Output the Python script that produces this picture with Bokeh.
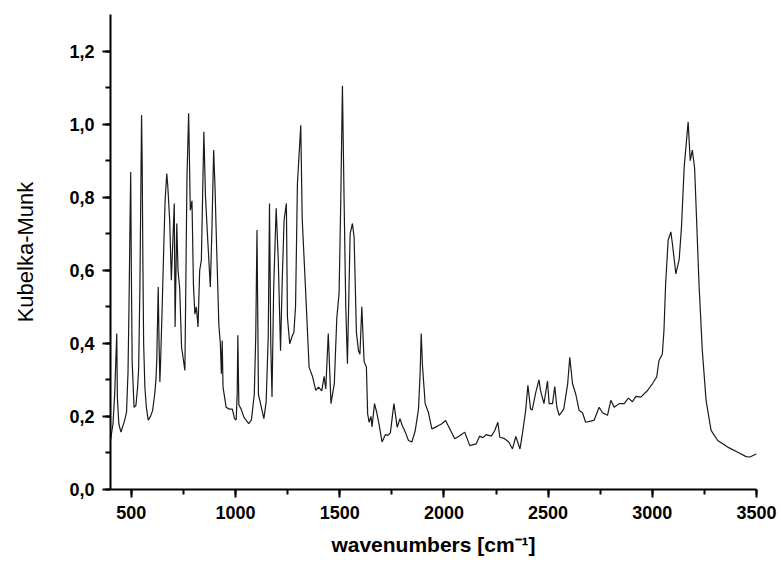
from bokeh.plotting import figure
from bokeh.models import Range1d, SingleIntervalTicker, CustomJSTickFormatter, ColumnDataSource
from bokeh.embed import file_html
from bokeh.resources import INLINE

wavenumber = [400, 412, 420, 430, 433, 440, 450, 460, 468, 477, 484, 489, 494, 497, 500, 504, 513, 522, 530, 535,
              541, 545, 549, 552, 555, 559, 565, 572, 581, 592, 602, 612, 618, 622, 629, 633, 637, 641, 648, 655,
              662, 670, 675, 684, 692, 706, 710, 718, 724, 732, 741, 757, 767, 775, 783, 791, 798, 805, 812, 820,
              828, 836, 848, 856, 865, 879, 887, 895, 902, 906, 920, 927, 932, 936, 940, 955, 970, 985, 995, 1003,
              1008, 1011, 1016, 1027, 1040, 1063, 1076, 1090, 1097, 1103, 1110, 1124, 1136, 1147, 1157, 1163, 1169, 1175, 1183, 1195,
              1205, 1216, 1224, 1233, 1244, 1249, 1260, 1272, 1280, 1288, 1297, 1313, 1320, 1335, 1353, 1369, 1385, 1398, 1414, 1425,
              1433, 1445, 1458, 1474, 1486, 1497, 1505, 1513, 1521, 1529, 1537, 1550, 1561, 1569, 1580, 1590, 1597, 1606, 1617, 1628,
              1634, 1641, 1650, 1655, 1667, 1678, 1690, 1703, 1719, 1732, 1743, 1760, 1776, 1789, 1800, 1816, 1830, 1846, 1862, 1878,
              1886, 1891, 1897, 1910, 1926, 1942, 1958, 1974, 1990, 2008, 2020, 2052, 2076, 2100, 2124, 2155, 2171, 2187, 2203, 2227,
              2243, 2259, 2268, 2288, 2311, 2329, 2345, 2365, 2376, 2392, 2403, 2416, 2424, 2440, 2456, 2464, 2480, 2497, 2505, 2521,
              2532, 2542, 2553, 2575, 2594, 2604, 2617, 2633, 2649, 2665, 2680, 2705, 2721, 2745, 2761, 2785, 2801, 2817, 2841, 2865,
              2885, 2905, 2921, 2945, 2977, 3001, 3021, 3032, 3048, 3056, 3064, 3076, 3089, 3097, 3113, 3129, 3140, 3153, 3172, 3182,
              3192, 3203, 3212, 3224, 3240, 3258, 3282, 3314, 3362, 3410, 3450, 3469, 3500]

kubelka_munk = [0.135, 0.18, 0.26, 0.427, 0.25, 0.18, 0.157, 0.175, 0.19, 0.212, 0.32, 0.51, 0.75, 0.869, 0.6, 0.35, 0.225, 0.23, 0.28, 0.33,
                0.55, 0.78, 1.025, 0.9, 0.65, 0.4, 0.28, 0.225, 0.19, 0.2, 0.216, 0.26, 0.3, 0.353, 0.554, 0.4, 0.294, 0.36, 0.5, 0.65,
                0.79, 0.865, 0.83, 0.737, 0.573, 0.783, 0.445, 0.728, 0.6, 0.55, 0.39, 0.326, 0.856, 1.03, 0.764, 0.79, 0.56, 0.48, 0.5, 0.445,
                0.6, 0.627, 0.979, 0.8, 0.70, 0.554, 0.72, 0.929, 0.82, 0.73, 0.45, 0.4, 0.317, 0.408, 0.28, 0.225, 0.22, 0.22, 0.194, 0.19,
                0.26, 0.422, 0.232, 0.22, 0.198, 0.18, 0.19, 0.26, 0.42, 0.71, 0.26, 0.225, 0.194, 0.24, 0.42, 0.783, 0.4, 0.253, 0.55, 0.77,
                0.63, 0.38, 0.57, 0.737, 0.783, 0.472, 0.399, 0.42, 0.43, 0.5, 0.837, 0.997, 0.74, 0.56, 0.335, 0.31, 0.271, 0.28, 0.27, 0.31,
                0.275, 0.427, 0.235, 0.29, 0.47, 0.537, 0.79, 1.105, 0.79, 0.5, 0.344, 0.7, 0.728, 0.69, 0.43, 0.38, 0.37, 0.5, 0.35, 0.335,
                0.207, 0.184, 0.2, 0.171, 0.235, 0.21, 0.175, 0.13, 0.15, 0.148, 0.155, 0.235, 0.17, 0.194, 0.175, 0.155, 0.134, 0.13, 0.16, 0.22,
                0.32, 0.427, 0.34, 0.235, 0.21, 0.166, 0.17, 0.175, 0.18, 0.189, 0.175, 0.139, 0.147, 0.157, 0.12, 0.125, 0.146, 0.142, 0.15, 0.146,
                0.16, 0.184, 0.143, 0.14, 0.13, 0.111, 0.145, 0.111, 0.15, 0.215, 0.285, 0.22, 0.218, 0.264, 0.3, 0.27, 0.235, 0.297, 0.235, 0.235,
                0.282, 0.225, 0.203, 0.22, 0.29, 0.362, 0.29, 0.26, 0.216, 0.21, 0.184, 0.187, 0.19, 0.225, 0.21, 0.203, 0.244, 0.225, 0.235, 0.235,
                0.25, 0.24, 0.255, 0.253, 0.271, 0.29, 0.308, 0.353, 0.37, 0.436, 0.564, 0.682, 0.705, 0.67, 0.59, 0.63, 0.718, 0.883, 1.006, 0.9,
                0.929, 0.88, 0.746, 0.564, 0.38, 0.244, 0.162, 0.134, 0.116, 0.102, 0.09, 0.089, 0.098]

x_label = "wavenumbers [cm\u207b\u00b9]"
y_label = "Kubelka-Munk"

p = figure(width=781, height=570, output_backend="svg", toolbar_location=None,
           x_range=Range1d(400, 3500), y_range=Range1d(0, 1.3),
           min_border_left=110, min_border_right=25, min_border_top=14, min_border_bottom=81)
p.outline_line_color = None
p.xgrid.visible = False
p.ygrid.visible = False
p.background_fill_color = "white"
p.border_fill_color = "white"

src = ColumnDataSource(dict(x=wavenumber, y=kubelka_munk))
p.line("x", "y", source=src, line_color="#1a1a1a", line_width=1.2)

p.xaxis.ticker = SingleIntervalTicker(interval=500, num_minor_ticks=2)
p.yaxis.ticker = SingleIntervalTicker(interval=0.2, num_minor_ticks=2)
p.yaxis.formatter = CustomJSTickFormatter(code="return tick.toFixed(1).replace('.', ',');")
p.xaxis.formatter = CustomJSTickFormatter(code="return tick.toFixed(0);")

for ax in (p.xaxis, p.yaxis):
    ax.axis_line_width = 2
    ax.axis_line_color = "black"
    ax.major_tick_line_width = 2
    ax.minor_tick_line_width = 2
    ax.major_tick_line_color = "black"
    ax.minor_tick_line_color = "black"
    ax.major_tick_out = 8
    ax.major_tick_in = 0
    ax.minor_tick_out = 5
    ax.minor_tick_in = 0
    ax.major_label_text_font = "Liberation Sans"
    ax.major_label_text_font_style = "bold"
    ax.major_label_text_font_size = "18px"
    ax.major_label_text_color = "black"
    ax.axis_label_text_font = "Liberation Sans"
    ax.axis_label_text_color = "black"

p.xaxis.axis_label = x_label
p.xaxis.axis_label_text_font_style = "bold"
p.xaxis.axis_label_text_font_size = "21px"
p.xaxis.major_label_standoff = 8
p.xaxis.axis_label_standoff = 11
p.yaxis.axis_label = y_label
p.yaxis.axis_label_text_font_style = "normal"
p.yaxis.axis_label_text_font_size = "22px"
p.yaxis.major_label_standoff = 8
p.yaxis.axis_label_standoff = 28

open("out.html", "w").write(file_html(p, INLINE))
